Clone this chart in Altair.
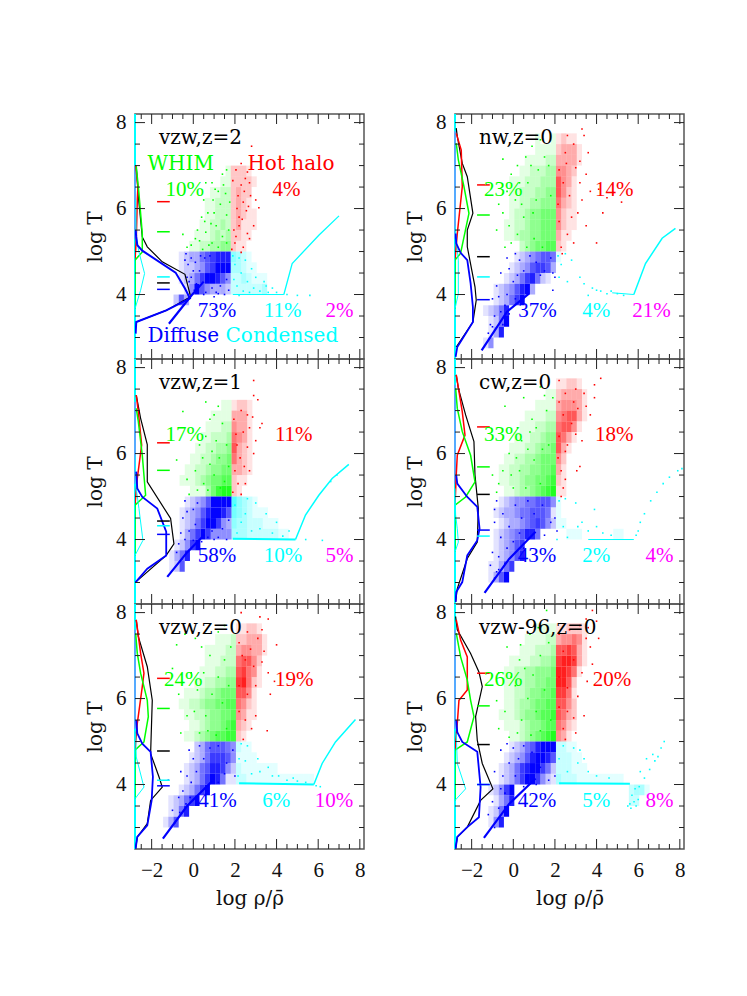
import altair as alt
import pandas as pd

alt.data_transformers.disable_max_rows()

RED, GREEN, BLUE, CYAN, MAGENTA, BLACK = "#ff0000", "#00ff00", "#0000ff", "#00ffff", "#ff00ff", "#000000"
X_DOMAIN = [-2.8, 8.2]
Y_DOMAIN = [2.5, 8.2]
X_MAJOR = [-2, 0, 2, 4, 6, 8]
X_MINOR = [-2.5, -1.5, -1, -0.5, 0.5, 1, 1.5, 2.5, 3, 3.5, 4.5, 5, 5.5, 6.5, 7, 7.5]
Y_MAJOR = [4, 6, 8]
Y_MINOR = [3, 3.5, 4.5, 5, 5.5, 6.5, 7, 7.5]
DASH_X = [-1.74, -1.13]

# density of the clouds: (T row start, cells left of the boundary, cells right of it)
GRID_VZW_Z2 = [(6.75, "1", "2221"), (6.5, "11", "22221"), (6.25, "1122", "2322"), (6.0, "11222", "2321"),
    (5.75, "11222", "23211"), (5.5, "112232", "23111"), (5.25, "1112323", "2211"), (5.0, "11223344", "211"),
    (4.75, "1233567888", "43210"), (4.5, "1223467999", "33211"), (4.25, "1235799864", "2232111"),
    (4.0, "149643332", "2222223"), (3.75, "26300000000", "")]
GRID_NW_Z0 = [(7.5, "1001", "1211"), (7.25, "1111", "23331"), (7.0, "111122", "33331"), (6.75, "1122233", "4432"),
    (6.5, "111222333", "6431"), (6.25, "112223344", "6421"), (6.0, "112233444", "5321"), (5.75, "122344555", "4211"),
    (5.5, "1122344555", "4211"), (5.25, "1123344555", "311"), (5.0, "2345566", "21"),
    (4.75, "12345665", "1"), (4.5, "123467763", ""), (4.25, "1235785210", ""), (4.0, "123468930000", ""),
    (3.75, "123579000000", ""), (3.5, "12358000000000", ""), (3.25, "1259000000000", ""), (3.0, "1380000000000", ""), (2.75, "14000000000000", "")]
GRID_VZW_Z1 = [(7.0, "11", "1221"), (6.75, "1111", "3331"), (6.5, "11122", "4331"), (6.25, "112223", "5431"),
    (6.0, "1122334", "6321"), (5.75, "11223445", "5321"), (5.5, "112234455", "3321"), (5.25, "1112345566", "211"),
    (5.0, "11135788", "21"), (4.75, "123469999", "64321"), (4.5, "1234689986", "5432111"), (4.25, "1235799743", "433222111"),
    (4.0, "1357974444", "33322222211"), (3.75, "12479000000", ""), (3.5, "135800000000", ""), (3.25, "126000000000", "")]
GRID_CW_Z0 = [(7.5, "", "11221"), (7.25, "11", "233331"), (7.0, "1111", "344431"), (6.75, "111122", "456631"),
    (6.5, "1112233", "56641"), (6.25, "11122344", "6531"), (6.0, "111223445", "631"), (5.75, "1122334555", "42"),
    (5.5, "11223344556", "31"), (5.25, "11223445567", "21"), (5.0, "1123345678", "11"),
    (4.75, "12344556664", "1"), (4.5, "123345566651", "1"), (4.25, "12334567642", "11"), (4.0, "123456885000", "0011100000011"),
    (3.75, "123467000000", ""), (3.5, "123468000000", ""), (3.25, "1135700000000", ""), (3.0, "1369000000000", "")]
GRID_VZW_Z0 = [(7.5, "", "11221"), (7.25, "1112", "223331"), (7.0, "111122", "344331"), (6.75, "111222", "56642"),
    (6.5, "1112233", "67541"), (6.25, "11223344", "78521"), (6.0, "1112334555", "6641"), (5.75, "11223445566", "5421"),
    (5.5, "1122344556", "4311"), (5.25, "112344567", "321"), (5.0, "1123456677", "21"),
    (4.75, "23566654", "211"), (4.5, "123577764", "1111"), (4.25, "1235688742", "21111111"), (4.0, "1235798511", "221111111111111"),
    (3.75, "12357900000", ""), (3.5, "1235790000000", ""), (3.25, "1258000000000", ""), (3.0, "13600000000000", "")]
GRID_VZW96_Z0 = [(7.5, "1111", "112221"), (7.25, "111122", "344541"), (7.0, "1112223", "667631"), (6.75, "111122334", "788731"),
    (6.5, "1122334445", "88751"), (6.25, "1122334455", "8862"), (6.0, "1122344556", "7751"), (5.75, "1123345566", "6642"),
    (5.5, "11123445667", "6532"), (5.25, "1112344566", "5421"), (5.0, "112345678", "431"),
    (4.75, "123568999", "2211"), (4.5, "1234689986", "22211"), (4.25, "12357899752", "222111"), (4.0, "12357997421", "3222111111111"),
    (3.75, "1247900000000", "000000000000002331"), (3.5, "135800000000", "0000000000000022"), (3.25, "1259000000000", ""), (3.0, "1480000000000", "")]

# scattered single particles
DOTS_VZW_Z2 = {RED: [(2.8,7.45),(2.3,7.05),(2.6,6.85),(3.0,6.2),(3.15,6.02),(2.9,5.6),(2.7,5.3),(2.4,5.1),(2.6,5.42),(2.05,6.9),(2.45,6.4),(2.2,5.8),(2.0,5.2),(2.3,4.98),(2.65,6.05),
        (1.95,5.5),(2.1,6.0),(2.3,6.55),(2.5,6.7),(2.15,6.3),(2.35,5.75),(1.9,6.65),(2.55,5.95),(2.05,5.35),(2.4,6.15),(2.7,6.6),(1.85,5.05),(2.2,5.6),(2.75,6.3)],
    GREEN: [(-.5,5.4),(-.3,5.1),(-.1,5.15),(.4,5.8),(.2,5.5),(1.4,6.8),(1.6,6.9),(.9,6.6),(.6,6.6),(.5,6.2),(.1,5.3),(.7,5.9),(1.2,6.4),
        (.9,5.2),(1.1,5.6),(1.4,5.35),(.6,5.45),(1.6,5.85),(1.3,6.1),(1.0,5.9),(.75,5.15),(1.55,6.35),(1.7,5.5),(.45,5.05),(1.2,5.1),(.95,6.2),(1.45,6.55),(.85,5.65),(.3,5.25),(1.75,6.15),(1.05,6.45),(1.6,5.2),(.55,5.7)],
    BLUE: [(-.35,4.95),(-.25,4.7),(-.1,4.4),(0,4.55),(.5,4.0),(1,3.95),(1.5,4.0),(-.4,4.8),(.2,4.1),(1.2,4.02),
        (-.2,4.3),(.1,4.75),(.3,4.55),(.15,4.25),(.55,4.85),(.8,4.9),(-.1,4.85),(.05,4.1),(.9,4.15),(1.3,4.2),(1.6,4.35),(.6,4.05),(1.1,4.05),(1.7,4.1),(.35,4.9),(-.3,4.4)],
    CYAN: [(4.5,4.0),(5,3.98),(5.6,3.98),(3,4.4),(3.5,4.2),(2.5,4.8),(2.2,3.98),(2.8,4.6),(4,4.05),(3.8,4.15),
        (2,4.7),(2.3,4.5),(2.1,4.2),(2.6,4.3),(2.9,4.15),(3.2,4.08),(2.4,4.08),(1.9,4.9),(2.2,4.85),(3.6,4.05),(1.95,4.35),(2.7,4.05),(3.4,4.3)]}
DOTS_NW_Z0 = {RED: [(3.3,7.85),(2.6,7.7),(3.4,7.7),(3.6,7.3),(3.5,6.8),(4.1,6.45),(4.5,6.25),(4.3,5.9),(4,5.2),(3.5,5.6),(2.9,5.2),(3.1,5.9),(3.7,6.4),(5.2,6.15),
        (2.2,6.9),(2.5,7.3),(2.9,7.5),(3.2,7.1),(2.4,6.6),(2.7,6.3),(3.2,6.6),(2.2,5.7),(2.6,5.4),(2.3,5.1),(3.0,6.95),(2.15,6.1),(2.8,5.8),(2.35,4.95),(3.3,6.2),(2.55,7.05)],
    GREEN: [(.4,7.75),(-.5,7.15),(-.7,6.1),(-.8,5.5),(-.5,5.9),(-.3,6.4),(.2,7.0),(.9,7.45),(1.3,7.6),(-.1,5.2),(-.4,5.1),(.6,7.2),
        (.4,6.1),(.2,5.4),(.7,6.6),(1.0,5.3),(1.2,6.9),(1.5,7.2),(.5,5.8),(1.7,7.0),(.85,7.0),(.1,6.2),(-.2,5.6),(1.8,6.3),(1.1,6.2),(.3,6.6),(1.4,5.1),(.65,5.1),(-.1,6.8),(.95,5.9)],
    BLUE: [(-.8,4.2),(-.6,4.5),(-.3,4.85),(.1,4.95),(-1,3.9),(-1.1,3.3),(-.3,4.0),(-.9,3.5),(-1.2,3.1),(1.9,4.1),(2,4.4),
        (0,4.3),(.3,4.8),(.5,4.55),(.2,4.45),(.8,4.9),(1.1,4.75),(1.5,4.55),(1.8,4.85),(.1,3.9),(-.4,3.75),(-.6,3.6),(-.5,3.3),(-.2,4.6),(.6,4.2),(1.3,4.45),(1.9,4.5),(-.7,3.95),(-1,3.25),(-.2,3.55)],
    CYAN: [(2.15,4.9),(2.3,4.7),(2.2,4.4),(2.5,4.95),(2.8,4.8),(3.2,4.4),(3.4,4.25),(3.8,4.15),(2.6,4.3),(3.6,3.98),(4.2,4.08),(4.5,4.02),(4,4.1),(5,4.02),(5.3,3.98),(4.7,4.08)]}
DOTS_VZW_Z1 = {RED: [(2.9,7.7),(2.9,7.35),(3.1,7.25),(3.2,6.6),(3.0,6.3),(3.3,6.7),(2.7,5.6),(2.5,5.3),(2.3,5.05),(2.9,6.0),
        (1.95,6.8),(2.3,7.0),(2.6,6.9),(2.1,6.2),(2.4,6.5),(2.7,6.6),(2.0,5.6),(2.25,5.9),(2.6,6.15),(2.15,5.3),(2.45,5.7),(2.85,6.85),(1.9,5.1),(2.05,6.45)],
    GREEN: [(.6,7.2),(-.5,6.98),(-.8,5.85),(-.3,5.4),(-.2,5.05),(.1,5.6),(.3,6.2),(1.2,7.1),(.6,6.4),(.8,6.8),
        (.5,5.3),(.8,5.75),(1.1,6.3),(1.4,6.7),(.2,5.15),(.7,5.15),(1.0,5.5),(1.6,6.2),(1.3,5.2),(.45,5.9),(1.7,5.7),(1.0,6.9),(.9,6.05),(1.5,5.35),(1.25,5.9)],
    BLUE: [(-.4,4.9),(-.5,4.5),(-.7,3.9),(-.8,3.7),(-.6,4.15),(0,3.98),(1,4.0),(1.6,4.0),
        (-.2,4.2),(0,4.7),(.2,4.85),(.1,4.35),(-.3,4.65),(.5,4.1),(.9,4.2),(1.4,4.25),(1.7,4.45),(.4,3.95),(-.4,4.0),(-.55,3.55),(-.2,3.75),(1.2,4.05),(.7,4.05)],
    CYAN: [(5.4,4.0),(6.2,3.98),(4,4.4),(3.5,4.6),(3,4.85),(4.6,4.2),(2.6,4.95),(2,4.8),(2.3,4.4),(2.8,4.2),(3.2,4.25),(2.1,4.15),(2.5,4.6),(3.8,4.15),(4.3,4.08),(6.9,5.5),(6.6,5.35)]}
DOTS_CW_Z0 = {RED: [(4.2,7.75),(2.2,7.7),(3.9,7.6),(3.9,7.3),(3.7,6.9),(3.3,6.3),(3.2,5.7),(2.5,5.4),(2.3,5.0),(3.05,5.6),
        (2.2,7.2),(2.5,7.4),(3,7.5),(3.4,7.4),(2.4,6.9),(2.8,6.7),(3.1,7.05),(2.2,6.4),(2.6,6.2),(3.5,7.1),(2.15,5.9),(2.5,6.05),(3.0,6.45),(2.3,5.6),(2.9,7.2),(2.4,5.2)],
    GREEN: [(.5,7.3),(-.4,7.1),(-1,5.5),(-.8,5.1),(-.5,5.6),(1.3,7.55),(1.5,7.35),(-.2,6.0),(-.7,5.3),(.2,6.6),
        (0,5.2),(.3,5.6),(.7,6.1),(1.1,6.6),(1.6,7.0),(1.9,7.3),(.4,6.3),(.9,6.8),(-.1,5.5),(1.3,5.3),(.6,5.2),(1.0,5.85),(1.7,6.2),(1.4,6.1),(.15,5.9),(.8,6.5)],
    BLUE: [(-.9,4.4),(-1,3.7),(-1.1,3.4),(-.9,3.1),(-.7,3.3),(-.8,4.9),(-.9,4.7),(2.1,4.2),(2.0,4.5),
        (-.5,4.6),(-.2,4.3),(.1,4.8),(.4,4.5),(.7,4.9),(1.0,4.6),(1.4,4.8),(1.8,4.4),(-.6,4.05),(-.3,3.8),(0,3.95),(.3,4.15),(-.7,3.6),(-.4,3.45),(-.8,3.25),(.5,3.8),(1.5,4.1)],
    CYAN: [(2.2,4.9),(2.5,4.95),(3.0,4.85),(3.9,4.7),(3.1,4.3),(3.3,4.4),(3.6,4.2),(4,4.3),(2.4,4.3),(2.1,4.0),(2.6,4.05),(4.3,4.15),(4.7,4.1),(6,4.2),(6.3,4.6),(6.9,5.1),(7.5,5.45),(6.6,4.9),(7.2,5.3),(7.9,5.6),(8.1,5.65),(5.9,4.1),(6.1,4.4)]}
DOTS_VZW_Z0 = {RED: [(3.2,7.9),(3.6,7.85),(2.3,8.0),(4,7.25),(3.6,6.6),(3.7,6.1),(3.0,5.6),(3.55,5.25),(2.8,5.3),(2.4,5.05),(3.9,6.4),
        (2.2,7.3),(2.6,7.55),(3.1,7.4),(3.4,7.1),(2.5,6.9),(2.9,6.75),(3.3,6.85),(2.2,6.3),(2.6,6.1),(3.0,6.3),(2.2,5.7),(2.5,5.5),(3.3,7.6),(2.35,7.0),(2.75,7.15)],
    GREEN: [(.1,7.4),(-.4,7.5),(-.8,7.25),(-1,6.7),(-.7,6.1),(-.3,5.6),(-.6,5.2),(1.5,7.7),(1.2,7.55),(.4,7.2),(-.1,6.6),
        (.3,5.2),(.6,5.6),(.9,6.1),(1.2,6.5),(1.5,6.9),(1.8,7.2),(.2,6.2),(.5,6.6),(.8,7.0),(1.6,5.3),(1.1,5.15),(.05,5.7),(1.7,6.3),(.7,5.25),(1.4,5.9)],
    BLUE: [(-1.2,4.1),(-1,3.4),(-.6,4.3),(-.2,4.8),(-.9,3.1),(-.7,3.7),(2.0,4.2),(1.6,4.5),(1.9,4.8),
        (0,4.6),(.3,4.9),(.15,4.3),(.5,4.6),(.8,4.85),(1.2,4.9),(1.5,4.25),(-.3,4.2),(-.1,4.05),(-.5,3.85),(-.35,3.55),(.6,3.85),(-.65,3.35),(1.2,4.05),(-.15,3.7)],
    CYAN: [(2.3,4.95),(2.6,4.9),(3.1,4.6),(3.2,4.3),(3.6,4.4),(3.8,4.2),(2.5,4.55),(4.5,4.1),(4.8,4.15),(6.1,3.95),(5.9,3.97),(2.2,4.6),(2.15,4.2),(2.8,4.25),(4.1,4.2),(5.0,4.08),(5.4,4.05)]}
DOTS_VZW96_Z0 = {RED: [(3.8,8.05),(3.5,7.85),(4.0,7.8),(4.1,7.4),(3.8,6.8),(3.55,6.4),(3.4,5.6),(3,5.2),(2.5,5.05),(3.7,7.2),
        (2.2,7.5),(2.7,7.6),(3.2,7.7),(3.5,7.4),(2.4,7.1),(2.9,6.9),(3.3,6.6),(2.2,6.5),(2.6,6.25),(3.1,6.05),(2.2,5.8),(2.6,5.7),(2.9,5.55),(3.6,7.65),(2.4,5.3)],
    GREEN: [(1.6,8.05),(.8,7.5),(-.3,7.2),(-.7,6.6),(-.8,5.95),(-.7,5.3),(-.2,5.1),(-.4,5.7),(.3,6.9),(1.2,7.65),
        (.1,6.3),(.4,5.5),(.7,6.0),(.95,6.55),(1.3,7.0),(1.7,7.3),(.2,5.2),(.55,6.7),(1.1,5.7),(1.5,6.2),(1.8,5.5),(.85,5.15),(1.3,5.25),(-.1,6.5),(.35,7.25)],
    BLUE: [(-.9,4.3),(-1,3.6),(-.6,4.8),(-1.2,3.3),(-.3,4.95),(-.5,4.2),(-.9,3.0),(2,4.2),
        (-.2,4.5),(0,4.85),(.25,4.6),(.1,4.2),(.5,4.9),(.9,4.75),(1.3,4.4),(1.7,4.1),(-.4,3.8),(-.1,3.9),(-.7,3.45),(.5,3.95),(1.1,4.0),(-.6,3.9),(-.35,3.35)],
    CYAN: [(2.4,4.9),(2.9,4.85),(3.2,4.8),(3.1,4.5),(3.6,4.3),(4,4.2),(4.6,4.15),(6.1,4.3),(6.4,4.6),(6.7,4.7),(7.1,4.85),(7.25,5.0),(6.8,4.55),
        (2.2,4.6),(2.6,4.3),(3.4,4.6),(5.6,3.55),(5.7,3.75),(5.85,3.9),(6.0,3.65),(5.5,3.5),(5.9,3.5),(6.05,3.95),(6.3,4.15),(6.55,4.35),(6.95,4.65),(5.65,3.45),(5.8,3.6)]}

# lines: distribution curves, tight relation and condensed branch
LINES_VZW_Z2 = [(BLACK,1.2,[(-2.74,6.98),(-2.64,6.28),(-2.45,5.34),(-2.21,5.11),(-1.49,4.76),(-.4,4.47),(-.13,3.95),(-1.3,3.63),(-2.74,3.36)]),
    (RED,1.5,[(-2.8,4.8),(-2.74,5.27),(-2.69,6.2),(-2.66,6.51),(-2.77,7.01)]),
    (GREEN,1.5,[(-2.8,3.67),(-2.8,4.8),(-2.45,4.99),(-2.45,5.42),(-2.61,6.35),(-2.74,6.98)]),
    (CYAN,1,[(-2.8,3.67),(-2.53,4.1),(-2.34,4.49),(-2.61,4.99),(-2.74,5.34),(-2.77,6.2)]),
    (BLUE,2,[(-2.77,3.09),(-2.74,3.36),(-1.3,3.63),(-.16,3.91),(-.4,4.14),(-.85,4.51),(-2.45,5.02),(-2.69,5.15),(-2.74,5.34),(-2.77,5.5)]),
    (BLUE,2.2,[(-1.17,3.32),(-.1,3.97),(.5,4.3)]),
    (CYAN,1.3,[(4.35,4.0),(4.75,4.72),(6.03,5.38),(7,5.83)]),
    (CYAN,1,[(1.9,4.0),(4.35,4.0)])]
LINES_NW_Z0 = [(BLACK,1.2,[(-2.74,2.78),(-1.94,3.36),(-1.78,3.87),(-1.84,4.18),(-2.21,5.11),(-2.21,5.5),(-1.94,5.89),(-2.21,6.74),(-2.45,7.05),(-2.69,7.68),(-2.74,7.87)]),
    (RED,1.5,[(-2.8,4.8),(-2.69,5.42),(-2.45,6.51),(-2.5,7.36),(-2.74,7.75)]),
    (GREEN,1.5,[(-2.8,3.67),(-2.8,4.8),(-2.53,4.96),(-2.13,5.89),(-2.37,6.51),(-2.64,7.13),(-2.74,7.52)]),
    (CYAN,1,[(-2.8,3.67),(-2.64,4.02),(-2.64,4.8),(-2.74,5.27),(-2.8,5.6)]),
    (BLUE,1.8,[(-2.77,2.55),(-2.69,2.78),(-1.94,3.36),(-1.94,3.71),(-2.05,4.26),(-2.21,4.8),(-2.53,4.97),(-2.74,5.19),(-2.77,5.42)]),
    (BLUE,2.2,[(-1.52,2.7),(-.3,3.6),(.75,4.02)]),
    (CYAN,1.5,[(5.79,4.0),(6.35,4.72),(7.15,5.31),(7.79,5.54)]),
    (CYAN,1,[(4.75,4.04),(5.79,4.0)])]
LINES_VZW_Z1 = [(BLACK,1.2,[(-2.77,3.01),(-1.3,3.63),(-.93,3.9),(-1.09,4.49),(-2.21,5.34),(-2.21,6.21),(-2.53,6.82),(-2.74,7.36)]),
    (RED,1.5,[(-2.8,4.8),(-2.69,5.42),(-2.48,6.2),(-2.64,6.97),(-2.74,7.36)]),
    (GREEN,1.5,[(-2.8,3.63),(-2.8,4.8),(-2.29,5.03),(-2.45,5.96),(-2.64,6.74),(-2.74,7.05)]),
    (CYAN,1,[(-2.8,3.63),(-2.42,3.98),(-2.61,4.72),(-2.74,5.19),(-2.8,5.96)]),
    (BLUE,1.8,[(-2.77,3.01),(-2.21,3.32),(-1.3,3.63),(-1.3,4.18),(-1.73,4.72),(-2.45,4.99),(-2.69,5.19),(-2.74,5.58)]),
    (BLUE,2.2,[(-1.25,3.13),(-.3,3.7),(.43,4.06)]),
    (CYAN,1.5,[(4.91,4.0),(5.39,4.57),(6.03,5.03),(6.67,5.42),(7.47,5.75)]),
    (CYAN,2,[(1.9,4.02),(4.91,4.0)])]
LINES_CW_Z0 = [(BLACK,1.2,[(-2.77,2.55),(-2.69,2.86),(-2.21,3.56),(-1.73,3.94),(-1.68,4.72),(-1.84,5.5),(-1.89,6.28),(-2.29,6.9),(-2.64,7.52),(-2.74,7.83)]),
    (RED,1.5,[(-2.8,4.8),(-2.74,5.5),(-2.69,5.96),(-2.32,6.43),(-2.45,6.97),(-2.74,7.83)]),
    (GREEN,1.5,[(-2.8,3.71),(-2.8,4.8),(-2.29,4.99),(-1.84,5.34),(-2.05,5.96),(-2.45,6.51),(-2.69,7.05),(-2.77,7.52)]),
    (CYAN,1,[(-2.8,3.71),(-2.64,3.94),(-2.69,4.25),(-2.77,4.57),(-2.8,5.19)]),
    (BLUE,1.8,[(-2.77,2.55),(-2.74,2.78),(-2.45,3.01),(-2.21,3.63),(-1.73,3.98),(-1.62,4.25),(-1.73,4.76),(-2.21,4.99),(-2.69,5.3),(-2.74,5.5)]),
    (BLUE,2.2,[(-1.38,2.76),(-.2,3.55),(1.07,4.18)]),
    (CYAN,1,[(3.6,4.0),(5.79,4.0)])]
LINES_VZW_Z0 = [(BLACK,1.2,[(-2.77,2.51),(-2.69,2.78),(-2.21,3.09),(-2.05,3.63),(-1.49,3.94),(-1.65,4.18),(-2.05,4.72),(-1.97,5.96),(-2.21,6.74),(-2.64,7.44),(-2.74,7.83)]),
    (RED,1.5,[(-2.8,4.8),(-2.69,5.42),(-2.45,6.28),(-2.37,6.59),(-2.53,7.05),(-2.74,7.83)]),
    (GREEN,1.5,[(-2.8,3.67),(-2.8,4.8),(-2.37,4.99),(-2.16,5.58),(-2.21,5.96),(-2.53,6.59),(-2.69,7.05),(-2.77,7.52)]),
    (CYAN,1,[(-2.8,3.67),(-2.37,3.94),(-2.74,4.64),(-2.77,5.19)]),
    (BLUE,1.8,[(-2.77,2.51),(-2.69,2.78),(-2.21,3.05),(-2,3.63),(-1.94,4.18),(-2.05,4.76),(-2.45,4.95),(-2.69,5.19),(-2.74,5.5)]),
    (BLUE,2.2,[(-1.46,2.74),(-.3,3.5),(.91,4.08)]),
    (CYAN,1.5,[(5.79,4.0),(6.19,4.49),(6.83,4.99),(7.79,5.51)]),
    (CYAN,2,[(2.2,4.03),(5.79,4.0)])]
LINES_VZW96_Z0 = [(BLACK,1.2,[(-2.77,2.51),(-2.69,2.78),(-2.21,3.01),(-1.57,3.63),(-.98,3.9),(-1.49,4.49),(-1.73,5.03),(-1.81,5.58),(-1.49,6.28),(-1.65,6.62),(-2.05,7.05),(-2.69,7.6),(-2.77,7.91)]),
    (RED,1.5,[(-2.8,4.8),(-2.69,5.42),(-2.61,5.96),(-2.21,6.2),(-2.21,6.97),(-2.53,7.36),(-2.74,7.83)]),
    (GREEN,1.5,[(-2.8,3.63),(-2.8,4.8),(-2.21,4.99),(-1.89,5.58),(-2.05,5.96),(-2.21,6.43),(-2.53,6.97),(-2.74,7.52)]),
    (CYAN,1,[(-2.8,3.63),(-2.29,3.9),(-2.69,4.49),(-2.74,5.19)]),
    (BLUE,1.8,[(-2.77,2.51),(-2.69,2.78),(-2.21,3.01),(-1.65,3.24),(-1.57,3.94),(-1.73,4.76),(-2.45,4.99),(-2.69,5.22),(-2.74,5.5)]),
    (BLUE,2.2,[(-1.41,2.76),(-.2,3.55),(1.07,4.14)]),
    (CYAN,2,[(2.2,4.03),(5.6,4.02)])]

# short mean-temperature dashes
MEANS_VZW_Z2 = [(RED,6.16),(GREEN,5.46),(CYAN,4.41),(BLACK,4.27),(BLUE,4.12)]
MEANS_NW_Z0 = [(RED,6.55),(GREEN,5.85),(BLACK,4.88),(CYAN,4.41),(BLUE,3.88)]
MEANS_VZW_Z1 = [(RED,6.25),(GREEN,5.61),(BLACK,4.43),(CYAN,4.32),(BLUE,4.12)]
MEANS_CW_Z0 = [(RED,6.62),(GREEN,5.69),(BLACK,5.05),(BLUE,4.22),(CYAN,4.08)]
MEANS_VZW_Z0 = [(RED,6.47),(GREEN,5.77),(BLACK,4.78),(CYAN,4.1),(BLUE,3.97)]
MEANS_VZW96_Z0 = [(RED,6.59),(GREEN,5.83),(BLACK,4.93),(CYAN,4.0),(BLUE,4.0)]

WORDS_VZW_Z2 = [("vzw,z=2",-1.65,7.5,BLACK),("WHIM",-2.2,6.9,GREEN),("Hot halo",2.6,6.9,RED),("Diffuse",-2.2,2.9,BLUE),("Condensed",1.55,2.9,CYAN)]
PCTS_VZW_Z2 = [("10%",-1.33,6.3,GREEN),("4%",3.8,6.3,RED),("73%",.22,3.47,BLUE),("11%",3.39,3.47,CYAN),("2%",6.35,3.47,MAGENTA)]
WORDS_NW_Z0 = [("nw,z=0",-1.65,7.5,BLACK)]
PCTS_NW_Z0 = [("23%",-1.41,6.3,GREEN),("14%",3.92,6.3,RED),("37%",.24,3.47,BLUE),("4%",3.31,3.47,CYAN),("21%",5.71,3.47,MAGENTA)]
WORDS_VZW_Z1 = [("vzw,z=1",-1.65,7.5,BLACK)]
PCTS_VZW_Z1 = [("17%",-1.33,6.3,GREEN),("11%",3.92,6.3,RED),("58%",.22,3.47,BLUE),("10%",3.39,3.47,CYAN),("5%",6.35,3.47,MAGENTA)]
WORDS_CW_Z0 = [("cw,z=0",-1.65,7.5,BLACK)]
PCTS_CW_Z0 = [("33%",-1.41,6.3,GREEN),("18%",3.92,6.3,RED),("43%",.22,3.47,BLUE),("2%",3.31,3.47,CYAN),("4%",6.35,3.47,MAGENTA)]
WORDS_VZW_Z0 = [("vzw,z=0",-1.65,7.5,BLACK)]
PCTS_VZW_Z0 = [("24%",-1.41,6.3,GREEN),("19%",3.92,6.3,RED),("41%",.24,3.47,BLUE),("6%",3.31,3.47,CYAN),("10%",5.84,3.47,MAGENTA)]
WORDS_VZW96_Z0 = [("vzw-96,z=0",-1.65,7.5,BLACK)]
PCTS_VZW96_Z0 = [("26%",-1.41,6.3,GREEN),("20%",3.82,6.3,RED),("42%",.22,3.47,BLUE),("5%",3.31,3.47,CYAN),("8%",6.35,3.47,MAGENTA)]

PANELS = [
    (1.8, GRID_VZW_Z2, DOTS_VZW_Z2, LINES_VZW_Z2, MEANS_VZW_Z2, WORDS_VZW_Z2, PCTS_VZW_Z2, 7.0),
    (2.05, GRID_NW_Z0, DOTS_NW_Z0, LINES_NW_Z0, MEANS_NW_Z0, WORDS_NW_Z0, PCTS_NW_Z0, 7.8),
    (1.84, GRID_VZW_Z1, DOTS_VZW_Z1, LINES_VZW_Z1, MEANS_VZW_Z1, WORDS_VZW_Z1, PCTS_VZW_Z1, 7.2),
    (2.05, GRID_CW_Z0, DOTS_CW_Z0, LINES_CW_Z0, MEANS_CW_Z0, WORDS_CW_Z0, PCTS_CW_Z0, 7.6),
    (2.05, GRID_VZW_Z0, DOTS_VZW_Z0, LINES_VZW_Z0, MEANS_VZW_Z0, WORDS_VZW_Z0, PCTS_VZW_Z0, 7.6),
    (2.05, GRID_VZW96_Z0, DOTS_VZW96_Z0, LINES_VZW96_Z0, MEANS_VZW96_Z0, WORDS_VZW96_Z0, PCTS_VZW96_Z0, 7.6),
]
W, H = 229, 245
CELL = 0.25
SERIF = "Liberation Serif"
WIDE = "DejaVu Serif"
FRAME = "#555555"
COL = alt.Color("c:N", scale=None)


def panel(spec, bottom):
    b, grid, dots, lines, means, words, pcts, edge = spec
    cells = []
    for t, left, right in grid:
        n = len(left)
        for j, ch in enumerate(left):
            if ch != "0":
                x0 = b - CELL * (n - j)
                cells.append(dict(x=x0, x2=x0 + CELL, y=t, y2=t + CELL, a=min(1, int(ch) * 0.11), c=GREEN if t >= 5 else BLUE))
        for j, ch in enumerate(right):
            if ch != "0":
                x0 = b + CELL * j
                cells.append(dict(x=x0, x2=x0 + CELL, y=t, y2=t + CELL, a=min(1, int(ch) * 0.11), c=RED if t >= 5 else CYAN))
    if bottom:
        xaxis = alt.Axis(values=X_MAJOR, format="d", tickSize=0, domain=False, grid=False, labelFont=SERIF, labelFontSize=21,
                         labelColor="#111", labelPadding=10, labelFlush=False, labelOverlap=False,
                         title="log  ρ/ρ̄", titleFont=WIDE, titleFontSize=20, titleFontWeight="normal",
                         titleColor="#111", titlePadding=8)
    else:
        xaxis = alt.Axis(values=X_MAJOR, tickSize=0, domain=False, grid=False, labels=False, title=None)
    yaxis = alt.Axis(values=Y_MAJOR, format="d", tickSize=0, domain=False, grid=False, labelFont=SERIF, labelFontSize=21,
                     labelColor="#111", labelPadding=9, labelFlush=False, labelOverlap=False, title="log T",
                     titleFont=WIDE, titleFontSize=20, titleFontWeight="normal", titleColor="#111", titlePadding=10)

    def X(field="x"):
        return alt.X(f"{field}:Q", scale=alt.Scale(domain=X_DOMAIN, nice=False, zero=False), axis=xaxis)

    def Y(field="y"):
        return alt.Y(f"{field}:Q", scale=alt.Scale(domain=Y_DOMAIN, nice=False, zero=False), axis=yaxis)

    layers = [alt.Chart(pd.DataFrame(cells)).mark_rect(strokeWidth=0).encode(
        x=X(), x2="x2:Q", y=Y(), y2="y2:Q", color=COL, opacity=alt.Opacity("a:Q", scale=None))]
    dot_rows = [dict(x=p[0], y=p[1], c=c) for c, pts in dots.items() for p in pts]
    layers.append(alt.Chart(pd.DataFrame(dot_rows)).mark_square(size=2.5, opacity=1).encode(x=X(), y=Y(), color=COL))
    layers.append(alt.Chart(pd.DataFrame([dict(x=X_DOMAIN[0], y=Y_DOMAIN[0], y2=Y_DOMAIN[1])])).mark_rule(
        color=CYAN, strokeWidth=2).encode(x=X(), y=Y(), y2="y2:Q"))
    layers.append(alt.Chart(pd.DataFrame([dict(x=X_DOMAIN[0], y=5.3, y2=edge)])).mark_rule(
        color="#55aaff", strokeWidth=2).encode(x=X(), y=Y(), y2="y2:Q"))
    for c, w, pts in lines:
        ld = pd.DataFrame([dict(x=p[0], y=p[1], i=i) for i, p in enumerate(pts)])
        layers.append(alt.Chart(ld).mark_line(color=c, strokeWidth=w, clip=True).encode(x=X(), y=Y(), order="i:Q"))
    md = pd.DataFrame([dict(x=DASH_X[0], x2=DASH_X[1], y=t, c=c) for c, t in means])
    layers.append(alt.Chart(md).mark_rule(strokeWidth=1.5).encode(x=X(), x2="x2:Q", y=Y(), color=COL))
    for vals, ln in [(X_MAJOR, 10), (X_MINOR, 5)]:
        td = pd.DataFrame({"x": vals})
        layers.append(alt.Chart(td).mark_rule(color="#222", strokeWidth=1).encode(x=X(), y=alt.value(0), y2=alt.value(ln)))
        layers.append(alt.Chart(td).mark_rule(color="#222", strokeWidth=1).encode(x=X(), y=alt.value(H - ln), y2=alt.value(H)))
    for vals, ln in [(Y_MAJOR, 10), (Y_MINOR, 5)]:
        td = pd.DataFrame({"y": vals})
        layers.append(alt.Chart(td).mark_rule(color="#222", strokeWidth=1).encode(y=Y(), x=alt.value(0), x2=alt.value(ln)))
        layers.append(alt.Chart(td).mark_rule(color="#222", strokeWidth=1).encode(y=Y(), x=alt.value(W - ln), x2=alt.value(W)))
    wd = pd.DataFrame([dict(t=a, x=b_, y=c_, c=d) for a, b_, c_, d in words])
    pc = pd.DataFrame([dict(t=a, x=b_, y=c_, c=d) for a, b_, c_, d in pcts])
    layers.append(alt.Chart(wd).mark_text(font=WIDE, fontSize=20, align="left", baseline="alphabetic").encode(x=X(), y=Y(), text="t:N", color=COL))
    layers.append(alt.Chart(pc).mark_text(font=SERIF, fontSize=21, align="left", baseline="alphabetic").encode(x=X(), y=Y(), text="t:N", color=COL))
    return alt.layer(*layers).properties(width=W, height=H)


charts = [panel(s, i >= 4) for i, s in enumerate(PANELS)]
chart = alt.concat(*charts, columns=2, spacing={"row": 0, "column": 91}).properties(
    bounds="flush", background="white", padding={"left": 76, "top": 102, "right": 10, "bottom": 30},
).resolve_scale(x="independent", y="independent").configure_view(stroke=FRAME, strokeWidth=1.5)
chart.save("out.html", embed_options={"renderer": "svg", "actions": False})
